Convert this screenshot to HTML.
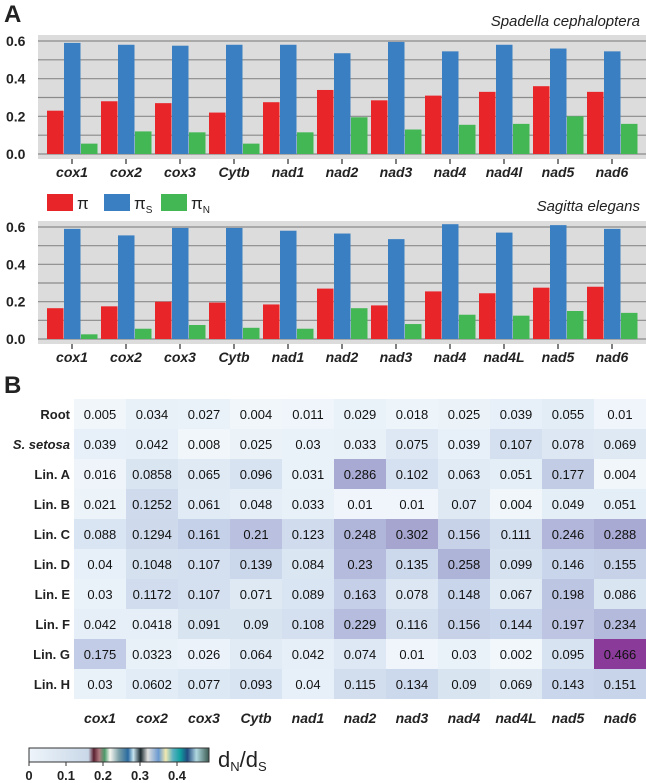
<!DOCTYPE html>
<html><head><meta charset="utf-8">
<style>
html,body{margin:0;padding:0;background:#fff;}
svg{display:block;font-family:"Liberation Sans",Arial,sans-serif;}
</style></head>
<body>
<svg id="fig" width="646" height="783" viewBox="0 0 646 783"></svg>
<script>
const genes1 = ["cox1","cox2","cox3","Cytb","nad1","nad2","nad3","nad4","nad4l","nad5","nad6"];
const genes2 = ["cox1","cox2","cox3","Cytb","nad1","nad2","nad3","nad4","nad4L","nad5","nad6"];
const piA  = [0.23,0.28,0.27,0.22,0.275,0.34,0.285,0.31,0.33,0.36,0.33];
const psA  = [0.59,0.58,0.575,0.58,0.58,0.535,0.595,0.545,0.58,0.56,0.545];
const pnA  = [0.055,0.12,0.115,0.055,0.115,0.195,0.13,0.155,0.16,0.2,0.16];
const piB  = [0.165,0.175,0.2,0.195,0.185,0.27,0.18,0.255,0.245,0.275,0.28];
const psB  = [0.59,0.555,0.595,0.595,0.58,0.565,0.535,0.615,0.57,0.61,0.59];
const pnB  = [0.025,0.055,0.075,0.06,0.055,0.165,0.08,0.13,0.125,0.15,0.14];
const yTicks = [0.0,0.2,0.4,0.6];
const rowLabels = ["Root","S. setosa","Lin. A","Lin. B","Lin. C","Lin. D","Lin. E","Lin. F","Lin. G","Lin. H"];
const heat = [
["0.005","0.034","0.027","0.004","0.011","0.029","0.018","0.025","0.039","0.055","0.01"],
["0.039","0.042","0.008","0.025","0.03","0.033","0.075","0.039","0.107","0.078","0.069"],
["0.016","0.0858","0.065","0.096","0.031","0.286","0.102","0.063","0.051","0.177","0.004"],
["0.021","0.1252","0.061","0.048","0.033","0.01","0.01","0.07","0.004","0.049","0.051"],
["0.088","0.1294","0.161","0.21","0.123","0.248","0.302","0.156","0.111","0.246","0.288"],
["0.04","0.1048","0.107","0.139","0.084","0.23","0.135","0.258","0.099","0.146","0.155"],
["0.03","0.1172","0.107","0.071","0.089","0.163","0.078","0.148","0.067","0.198","0.086"],
["0.042","0.0418","0.091","0.09","0.108","0.229","0.116","0.156","0.144","0.197","0.234"],
["0.175","0.0323","0.026","0.064","0.042","0.074","0.01","0.03","0.002","0.095","0.466"],
["0.03","0.0602","0.077","0.093","0.04","0.115","0.134","0.09","0.069","0.143","0.151"]];
const cbTicks = ["0","0.1","0.2","0.3","0.4"];

const NS="http://www.w3.org/2000/svg";
const svg=document.getElementById('fig');
function mk(tag,attrs,parent){const e=document.createElementNS(NS,tag);for(const k in attrs)e.setAttribute(k,attrs[k]);(parent||svg).appendChild(e);return e;}
function txt(s,attrs,parent){const e=mk('text',attrs,parent);e.textContent=s;return e;}

// panel labels
let t=txt("A",{x:4,y:22,"font-size":24,"font-weight":"bold",fill:"#222"});

t=txt("B",{x:4,y:393,"font-size":24,"font-weight":"bold",fill:"#222"});


function barChart(top,bottom,y0,y06,genes,a,b,c,title,titleY,name){
  const g=mk('g',{});
  
  const ys=v=>y0-(y0-y06)*v/0.6;
  const bg=mk('rect',{x:38,y:top,width:608,height:bottom-top,fill:"#dcdcdc"},g);
  
  for(let v=0;v<=0.6001;v+=0.1){mk('line',{x1:38,x2:646,y1:ys(v),y2:ys(v),stroke:"#8a8a8a","stroke-width":1.2},g);}
  yTicks.forEach(v=>{const l=txt(v.toFixed(1),{x:6,y:ys(v)+5,"font-size":14,"font-weight":"bold",fill:"#222"},g);
    });
  const x=i=>72+54*i;
  genes.forEach((gn,i)=>{
    const cx=x(i);
    [[a,"#e8262a",-25],[b,"#3a7fc1",-8],[c,"#42b753",9]].forEach(([arr,col,off],k)=>{
      const r=mk('rect',{x:cx+off,y:ys(arr[i]),width:16.5,height:y0-ys(arr[i]),fill:col},g);
      
      
    });
    mk('line',{x1:cx,x2:cx,y1:bottom,y2:bottom+5,stroke:"#555","stroke-width":1.5},g);
    const l=txt(gn,{x:cx,y:bottom+18,"font-size":14,"font-weight":"bold","font-style":"italic","text-anchor":"middle",fill:"#222"},g);
    
  });
  const tt=txt(title,{x:640,y:titleY,"font-size":15,"font-style":"italic","text-anchor":"end",fill:"#222"},g);
  
}
barChart(35,159,154,41,genes1,piA,psA,pnA,"Spadella cephaloptera",26,"chart-spadella");
barChart(221,344,339,227,genes2,piB,psB,pnB,"Sagitta elegans",211,"chart-sagitta");

// legend
const lg=mk('g',{});
[["#e8262a",47,"π",""],["#3a7fc1",104,"π","S"],["#42b753",161,"π","N"]].forEach(([col,x,s,sub],i)=>{
  const e=mk('g',{},lg);
  mk('rect',{x:x,y:194,width:26,height:17,fill:col},e);
  const tx=txt(s,{x:x+30,y:209,"font-size":17,fill:"#222"},e);
  if(sub){const ts=mk('tspan',{dy:4,"font-size":10},tx);ts.textContent=sub;}
});

// heatmap
function heatColor(v){
  const stops=[[0,[242,247,251]],[0.05,[228,238,247]],[0.1,[214,226,240]],[0.15,[200,212,234]],[0.25,[176,181,217]],[0.3,[165,166,209]],[0.466,[138,58,152]]];
  for(let i=1;i<stops.length;i++){if(v<=stops[i][0]){const [a,ca]=stops[i-1],[b,cb]=stops[i];const f=(v-a)/(b-a);
    return `rgb(${ca.map((c,k)=>Math.round(c+(cb[k]-c)*f)).join(',')})`;}}
  return "rgb(138,58,152)";
}
const hm=mk('g',{});
const cw=52,ch=30,hx=74,hy=399;
heat.forEach((row,r)=>{
  const rl=txt(rowLabels[r],{x:70,y:hy+r*ch+20,"font-size":13,"font-weight":"bold","font-style":r===1?"italic":"normal","text-anchor":"end",fill:"#222"},hm);
  
  row.forEach((s,c)=>{
    const v=parseFloat(s);
    const cell=mk('rect',{x:hx+c*cw,y:hy+r*ch,width:cw,height:ch,fill:heatColor(v)},hm);
    
    const ct=txt(s,{x:hx+c*cw+cw/2,y:hy+r*ch+20,"font-size":13,"text-anchor":"middle",fill:"#111"},hm);
    
  });
});
genes2.forEach((gn,c)=>{
  const l=txt(gn,{x:hx+c*cw+cw/2,y:723,"font-size":14,"font-weight":"bold","font-style":"italic","text-anchor":"middle",fill:"#222"},hm);
  
});

// colorbar
const cb=mk('g',{});
const defs=mk('defs',{});
const lgd=mk('linearGradient',{id:"cbg",x1:0,x2:1,y1:0,y2:0},defs);
[[0,"#eef4fa"],[0.33,"#c9d8e8"],[0.36,"#5a2030"],[0.39,"#b07a80"],[0.42,"#4a9a6a"],[0.45,"#f6f6f0"],[0.5,"#7aa0a8"],[0.55,"#2a6aa0"],[0.58,"#c8e4f0"],[0.62,"#1a2a30"],[0.66,"#e0e0e0"],[0.72,"#6a9ad0"],[0.76,"#f0e8b0"],[0.8,"#5ab0c0"],[0.84,"#10a0a0"],[0.88,"#204a80"],[0.93,"#b0d8e0"],[1,"#3a5a50"]].forEach(([o,c])=>mk('stop',{offset:o,"stop-color":c},lgd));
mk('rect',{x:29,y:748,width:180,height:14,fill:"url(#cbg)",stroke:"#333","stroke-width":1},cb);
cbTicks.forEach((s,i)=>{const x=29+37*i;mk('line',{x1:x,x2:x,y1:762,y2:766,stroke:"#333"},cb);
  const l=txt(s,{x:x,y:780,"font-size":13,"font-weight":"bold","text-anchor":"middle",fill:"#222"},cb);
  });
const ct=txt("d",{x:218,y:767,"font-size":22,fill:"#222"},cb);

let sp=mk('tspan',{dy:4,"font-size":13},ct);sp.textContent="N";
sp=mk('tspan',{dy:-4,"font-size":22},ct);sp.textContent="/d";
sp=mk('tspan',{dy:4,"font-size":13},ct);sp.textContent="S";
</script>
</body></html>
